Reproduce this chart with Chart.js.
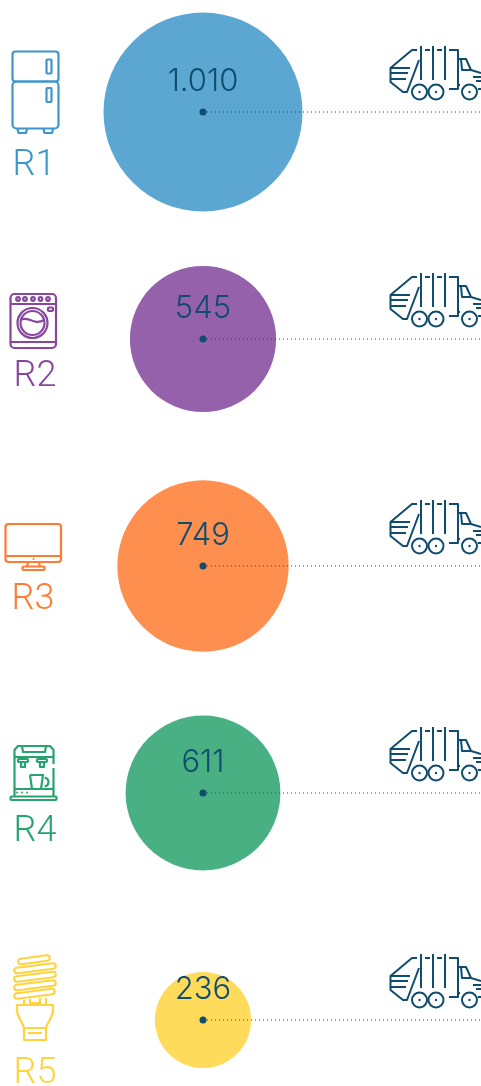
<!DOCTYPE html>
<html>
<head>
<meta charset="utf-8">
<style>
html, body { margin: 0; padding: 0; background: #fff; overflow: hidden; }
canvas { display: block; }
</style>
<script src="https://cdn.jsdelivr.net/npm/chart.js@4"></script>
</head>
<body>
<canvas id="chart" width="481" height="1086"></canvas>
<script>
const categories = ['R1', 'R2', 'R3', 'R4', 'R5'];
const values = [1010, 545, 749, 611, 236];
const valueLabels = ['1.010', '545', '749', '611', '236'];

const fillColors = ['#5ba7d1', '#9661ab', '#ff8f4f', '#49b083', '#ffdb5c'];
const iconColors = ['#3d96cb', '#87479e', '#ff7b33', '#27a36f', '#ffd33d'];
const darkBlue = '#0f4c6e';
const maxRadius = 99.5;

// small helpers for the icons
function box(c, x, y, w, h, r) {
    c.beginPath();
    c.roundRect(x, y, w, h, r);
    c.stroke();
}
function poly(c, pts) {
    c.beginPath();
    pts.forEach((p, i) => i ? c.lineTo(p[0], p[1]) : c.moveTo(p[0], p[1]));
    c.stroke();
}
function ring(c, x, y, r) {
    c.beginPath();
    c.arc(x, y, r, 0, Math.PI * 2);
    c.stroke();
}
function dot(c, x, y, r) {
    c.beginPath();
    c.arc(x, y, r, 0, Math.PI * 2);
    c.fill();
}

const icons = [
    function fridge(c) {
        box(c, 12.5, 51.5, 46, 30, 3);
        box(c, 12.5, 81.5, 46, 47, 4);
        box(c, 46.5, 59.5, 5, 14, 1);
        box(c, 46.5, 88, 5, 14, 1);
        poly(c, [[17.5, 129], [18.5, 133], [26, 133], [27, 129]]);
        poly(c, [[43.5, 129], [44.5, 133], [52, 133], [53, 129]]);
    },
    function washer(c) {
        box(c, 10.5, 294, 45.5, 54, 4);
        poly(c, [[10.5, 304], [56, 304]]);
        poly(c, [[10.5, 342], [56, 342]]);
        [18, 25, 33, 40.5, 48].forEach(x => ring(c, x, 299, 1.8));
        box(c, 48, 307.5, 5, 3.5, 1);
        ring(c, 32.5, 323, 15);
        ring(c, 32.5, 323, 12);
        c.beginPath();
        c.moveTo(21, 320);
        c.bezierCurveTo(27, 315, 34, 326, 44, 320);
        c.stroke();
    },
    function monitor(c) {
        box(c, 5.5, 524, 55.5, 38, 3);
        poly(c, [[5.5, 556], [61, 556]]);
        poly(c, [[28, 562], [27, 567]]);
        poly(c, [[39, 562], [40, 567]]);
        box(c, 22.5, 566.5, 22, 3.5, 1);
        dot(c, 33.5, 559, 1);
    },
    function coffee(c) {
        poly(c, [[14.5, 796], [14.5, 750], [18, 746], [50, 746], [53.5, 750], [53.5, 764]]);
        poly(c, [[53.5, 768], [53.5, 796]]);
        poly(c, [[22, 746], [23, 752], [45, 752], [46, 746]]);
        poly(c, [[14.5, 757], [53.5, 757]]);
        box(c, 18, 759, 10, 3, 1);
        box(c, 37, 759, 10, 3, 1);
        poly(c, [[21, 762], [21, 767], [25, 767], [25, 762]]);
        poly(c, [[40, 762], [40, 767], [44, 767], [44, 762]]);
        poly(c, [[30, 775], [43, 775], [41, 789], [32, 789], [30, 775]]);
        c.beginPath();
        c.arc(44, 782, 4.5, -1.4, 1.4);
        c.stroke();
        box(c, 10.5, 796.5, 46, 3.5, 1);
        poly(c, [[14.5, 789], [53.5, 789]]);
        [17, 22, 27].forEach(x => dot(c, x, 792.5, 1));
    },
    function bulb(c) {
        [[21, 961.5, 47, 958], [17, 970.5, 53, 966], [17, 979, 53, 974.5], [17, 987.5, 53, 983], [17, 996, 52, 991.5]].forEach(p => {
            const color = c.strokeStyle;
            c.save();
            c.lineCap = 'round';
            c.lineWidth = 7.5;
            poly(c, [[p[0], p[1]], [p[2], p[3]]]);
            c.strokeStyle = '#fff';
            c.lineWidth = 3.3;
            poly(c, [[p[0], p[1]], [p[2], p[3]]]);
            c.restore();
            c.strokeStyle = color;
        });
        poly(c, [[24, 1000], [24, 1005]]);
        poly(c, [[46, 998], [46, 1005]]);
        poly(c, [[30, 999], [30, 1003], [40, 1003], [40, 998]]);
        c.beginPath();
        c.moveTo(24, 1028);
        c.bezierCurveTo(22, 1020, 17, 1018, 17, 1010);
        c.lineTo(17, 1005);
        c.lineTo(53, 1005);
        c.lineTo(53, 1010);
        c.bezierCurveTo(53, 1018, 48, 1020, 46, 1028);
        c.closePath();
        c.stroke();
        poly(c, [[24, 1028], [24, 1040], [46, 1040], [46, 1028]]);
        poly(c, [[28, 1033], [42, 1033]]);
    }
];

// relative to the row centre, the truck is the same in each row
function truck(c, y) {
    c.save();
    c.translate(0, y - 112);
    c.strokeStyle = darkBlue;
    c.fillStyle = darkBlue;
    c.lineWidth = 2;
    poly(c, [[417, 50], [412, 50], [390.5, 68], [390.5, 82], [403, 92], [407, 92], [419, 60]]);
    poly(c, [[390.5, 68], [410, 68]]);
    poly(c, [[390.5, 73], [408, 73]]);
    poly(c, [[390.5, 79], [406, 79]]);
    [421, 433, 445].forEach(x => poly(c, [[x, 46], [x, 80]]));
    poly(c, [[425, 50], [430, 50]]);
    poly(c, [[437, 50], [442, 50]]);
    poly(c, [[449, 50], [458, 50], [458, 89], [449, 89]]);
    poly(c, [[458, 59], [466, 59], [471, 70], [481, 73]]);
    poly(c, [[461, 59], [462, 70], [471, 70]]);
    poly(c, [[458, 85], [460, 85]]);
    poly(c, [[478, 89], [481, 89]]);
    poly(c, [[473, 77], [481, 77]]);
    poly(c, [[476, 81], [481, 81]]);
    [[419.5, 92], [436, 92], [469.5, 92]].forEach(p => {
        ring(c, p[0], p[1], 7.5);
        dot(c, p[0], p[1], 1.2);
    });
    c.restore();
}

const decoration = {
    id: 'decoration',
    afterDatasetsDraw(chart) {
        const c = chart.ctx;
        const yScale = chart.scales.y;
        const xScale = chart.scales.x;
        const labelBase = [175, 386, 609, 841, 1083];
        const labelX = [34, 35, 33, 35, 35];
        c.save();
        c.lineJoin = 'round';
        categories.forEach((name, i) => {
            const y = yScale.getPixelForValue(name);
            truck(c, y);
            c.strokeStyle = iconColors[i];
            c.fillStyle = iconColors[i];
            c.lineWidth = 2.2;
            icons[i](c);
            c.textAlign = 'center';
            c.textBaseline = 'alphabetic';
            c.font = '300 36px Roboto';
            c.fillStyle = iconColors[i];
            c.fillText(name, labelX[i], labelBase[i]);
            c.font = '300 31px Inter';
            c.fillStyle = darkBlue;
            c.fillText(valueLabels[i], xScale.getPixelForValue(0), y - 21);
        });
        c.restore();
    }
};

const ctx = document.getElementById('chart').getContext('2d');
new Chart(ctx, {
    type: 'bubble',
    data: {
        labels: categories,
        datasets: [
            {
                type: 'scatter',
                order: 1,
                clip: false,
                data: categories.map(name => ({ x: 0, y: name })),
                pointRadius: 3.5,
                pointBackgroundColor: darkBlue,
                pointBorderWidth: 0,
                showLine: false
            },
            ...categories.map((name, i) => ({
                type: 'line',
                order: 2,
                clip: false,
                data: [{ x: 0, y: name }, { x: 1, y: name }],
                borderColor: darkBlue,
                borderWidth: 1,
                borderDash: [1, 3],
                pointRadius: 0
            })),
            {
                type: 'bubble',
                order: 3,
                clip: false,
                data: categories.map((name, i) => ({
                    x: 0,
                    y: name,
                    r: maxRadius * Math.sqrt(values[i] / values[0])
                })),
                backgroundColor: fillColors,
                borderWidth: 0
            }
        ]
    },
    options: {
        responsive: false,
        animation: false,
        events: [],
        layout: { autoPadding: false, padding: { left: 203, right: 0, top: 112, bottom: 66 } },
        plugins: { legend: { display: false }, tooltip: { enabled: false } },
        scales: {
            x: { type: 'linear', min: 0, max: 1, display: false },
            y: { type: 'category', labels: categories, offset: false, display: false }
        }
    },
    plugins: [decoration]
});
</script>
</body>
</html>
